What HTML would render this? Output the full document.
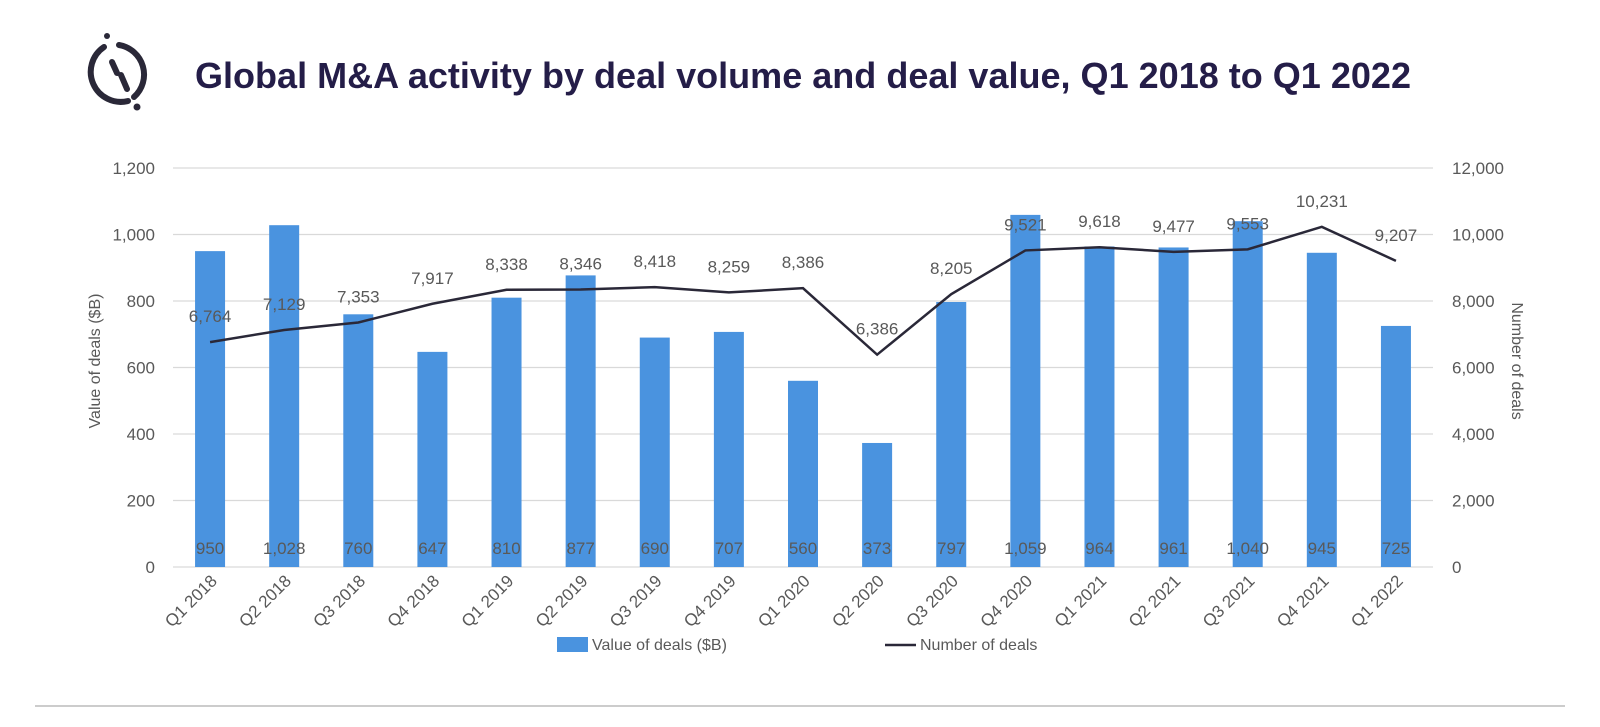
<!DOCTYPE html>
<html><head><meta charset="utf-8"><style>
body{margin:0;background:#fff;width:1600px;height:722px;overflow:hidden;font-family:"Liberation Sans",sans-serif}
</style></head><body>
<svg width="1600" height="722" xmlns="http://www.w3.org/2000/svg">
<g fill="none" stroke="#2a2838" stroke-width="6" stroke-linecap="round">
<path d="M104 47 A30 30 0 0 0 128 101"/>
<path d="M119 45 A30 30 0 0 1 134 97"/>
<line x1="112" y1="62" x2="117" y2="73"/><line x1="121" y1="75" x2="127" y2="89"/>
<circle cx="107" cy="36" r="3" fill="#2a2838" stroke="none"/><circle cx="137" cy="107" r="3.5" fill="#2a2838" stroke="none"/>
</g>
<text x="195" y="88" font-size="36" font-weight="bold" fill="#241d48" textLength="1216" lengthAdjust="spacingAndGlyphs">Global M&amp;A activity by deal volume and deal value, Q1 2018 to Q1 2022</text>
<g id="grid"></g><g id="bars"></g><g id="line"></g><g id="labels"></g>
<text transform="translate(100,361) rotate(-90)" text-anchor="middle" font-size="16" fill="#595959">Value of deals ($B)</text>
<text transform="translate(1512,361) rotate(90)" text-anchor="middle" font-size="16" fill="#595959">Number of deals</text>
<g>
<rect x="557" y="637" width="31" height="15" fill="#4a93df"/>
<text x="592" y="650" font-size="16" fill="#595959">Value of deals ($B)</text>
<line x1="885" y1="645" x2="916" y2="645" stroke="#2a2838" stroke-width="2.5"/>
<text x="920" y="650" font-size="16" fill="#595959">Number of deals</text>
</g>
<line x1="35" y1="706" x2="1565" y2="706" stroke="#999" stroke-width="1"/>
</svg>
<script>
const categories=["Q1 2018","Q2 2018","Q3 2018","Q4 2018","Q1 2019","Q2 2019","Q3 2019","Q4 2019","Q1 2020","Q2 2020","Q3 2020","Q4 2020","Q1 2021","Q2 2021","Q3 2021","Q4 2021","Q1 2022"];
const dealValues=[950,1028,760,647,810,877,690,707,560,373,797,1059,964,961,1040,945,725];
const dealCounts=[6764,7129,7353,7917,8338,8346,8418,8259,8386,6386,8205,9521,9618,9477,9553,10231,9207];
const leftTicks=[0,200,400,600,800,1000,1200];
const rightTicks=[0,2000,4000,6000,8000,10000,12000];
const NS="http://www.w3.org/2000/svg";
const x0=173,x1=1433,yB=567,yT=168;
const band=(x1-x0)/categories.length;
const xs=i=>x0+band*(i+0.5);
const yl=v=>yB-(v/1200)*(yB-yT);
const yr=v=>yB-(v/12000)*(yB-yT);
const fmt=v=>v.toLocaleString('en-US');
function mk(tag,attrs,parent,txt){const e=document.createElementNS(NS,tag);for(const k in attrs)e.setAttribute(k,attrs[k]);if(txt!==undefined)e.textContent=txt;document.getElementById(parent).appendChild(e);return e;}
leftTicks.forEach((t,i)=>{
 const g=mk('line',{x1:x0,x2:x1,y1:yl(t),y2:yl(t),stroke:'#d9d9d9','stroke-width':1.3},'grid');
 
 
 const l=mk('text',{x:155,y:yl(t)+6,'text-anchor':'end','font-size':17,fill:'#595959'},'grid',fmt(t));
 
 
});
rightTicks.forEach(t=>{
 const l=mk('text',{x:1452,y:yr(t)+6,'font-size':17,fill:'#595959'},'grid',fmt(t));
 
 
});
const bw=30;
dealValues.forEach((v,i)=>{
 const b=mk('rect',{x:xs(i)-bw/2,y:yl(v),width:bw,height:yB-yl(v),fill:'#4a93df'},'bars');
 
 
 const t=mk('text',{x:xs(i),y:554,'text-anchor':'middle','font-size':17,fill:'#595959'},'labels',fmt(v));
 
 
 const c=mk('text',{'text-anchor':'end','font-size':17,fill:'#595959',transform:`translate(${xs(i)+8},582) rotate(-45)`},'labels',categories[i]);
 
 
});
const p=mk('polyline',{points:dealCounts.map((v,i)=>xs(i)+','+yr(v)).join(' '),fill:'none',stroke:'#2a2838','stroke-width':2.5},'line');


dealCounts.forEach((v,i)=>{
 const t=mk('text',{x:xs(i),y:yr(v)-20,'text-anchor':'middle','font-size':17,fill:'#595959'},'labels',fmt(v));
 
 
});
</script>
</body></html>
